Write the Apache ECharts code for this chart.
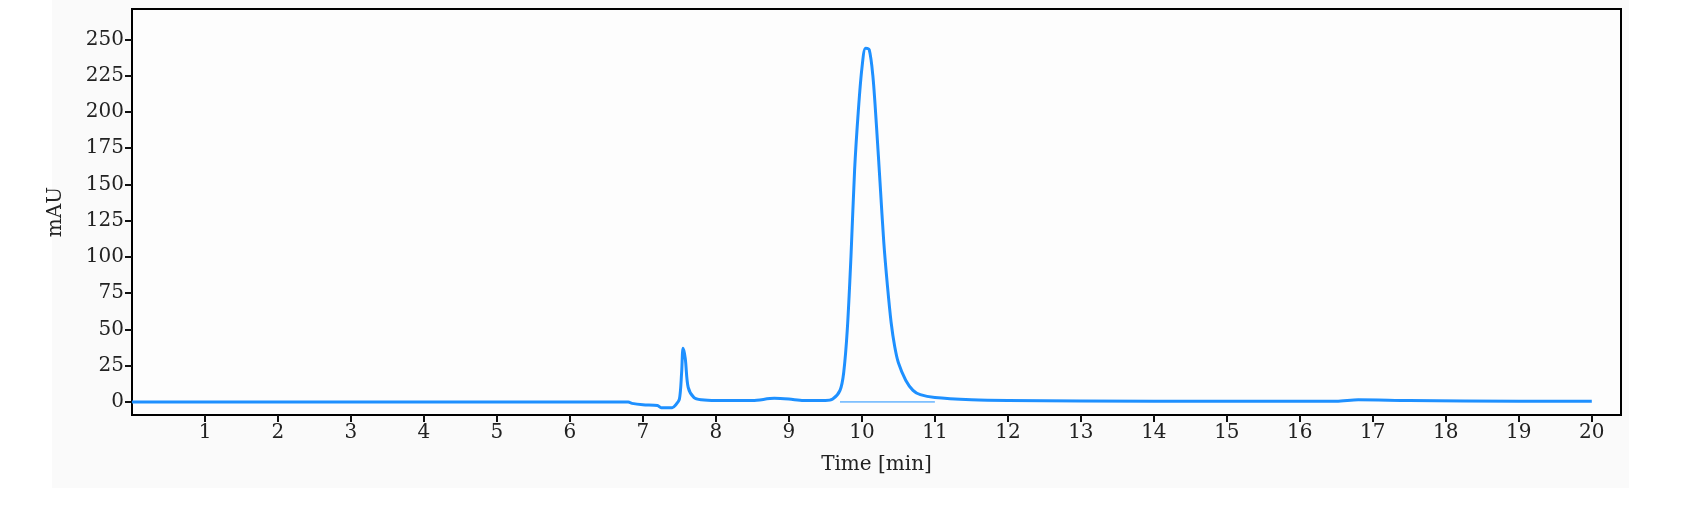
<!DOCTYPE html><html><head><meta charset="utf-8"><script src="https://cdn.jsdelivr.net/npm/echarts@6/dist/echarts.min.js"></script>
<style>html,body{margin:0;background:#fff}#bg{position:absolute;left:52px;top:0;width:1577px;height:488px;background:#fafafa}#c{position:absolute;left:0;top:0;width:1697px;height:506px}</style></head><body><div id="bg"></div><div id="c"></div><script>
const times=[0,6.8,6.85,7.0,7.2,7.25,7.4,7.45,7.5,7.53,7.55,7.58,7.62,7.7,7.8,8.0,8.5,8.8,9.0,9.2,9.5,9.6,9.7,9.75,9.8,9.85,9.9,9.95,10.0,10.05,10.1,10.15,10.2,10.25,10.3,10.35,10.4,10.45,10.5,10.6,10.7,10.8,11,11.5,12,14,16.5,16.8,17.5,19,20];
const values=[0,0,-1,-2,-2.5,-4,-4,-2,2,20,37,30,10,3,1.5,1,1,2.5,2,1,1,2,8,20,50,100,160,200,230,244,243,225,190,150,110,80,55,38,27,15,8,5,3,1.5,1,0.5,0.5,1.5,1,0.5,0.5];
const baseTimes=[9.7,11];
const baseVals=[0,0];
const xTicks=[1,2,3,4,5,6,7,8,9,10,11,12,13,14,15,16,17,18,19,20];
const yTicks=[0,25,50,75,100,125,150,175,200,225,250];
const font='"DejaVu Serif","Liberation Serif",serif';
const ch=echarts.init(document.getElementById('c'));
ch.setOption({animation:false,
grid:{left:132,right:76,top:9,bottom:91,show:true,borderColor:'#000',borderWidth:2,backgroundColor:'#fdfdfd'},
xAxis:{type:'value',min:0,max:20.4,name:'Time [min]',nameLocation:'middle',nameGap:40,nameTextStyle:{fontFamily:font,fontSize:20,color:'#222'},
 axisLine:{onZero:false,lineStyle:{color:'#000',width:2}},splitLine:{show:false},
 axisTick:{customValues:xTicks,length:7,lineStyle:{color:'#111',width:2}},
 axisLabel:{customValues:xTicks,fontFamily:font,fontSize:20,color:'#222'}},
yAxis:{type:'value',min:-9,max:271,name:'mAU',nameLocation:'middle',nameGap:66,nameTextStyle:{fontFamily:font,fontSize:20,color:'#222'},
 axisLine:{onZero:false,lineStyle:{color:'#000',width:2}},splitLine:{show:false},
 axisTick:{customValues:yTicks,length:7,lineStyle:{color:'#111',width:2}},
 axisLabel:{customValues:yTicks,fontFamily:font,fontSize:20,color:'#222',margin:8}},
series:[{type:'line',data:times.map((t,i)=>[t,values[i]]),showSymbol:false,smooth:0.3,lineStyle:{color:'#1e90ff',width:3}},
{type:'line',data:baseTimes.map((t,i)=>[t,baseVals[i]]),showSymbol:false,lineStyle:{color:'#1e90ff',width:1}}]});
</script></body></html>
